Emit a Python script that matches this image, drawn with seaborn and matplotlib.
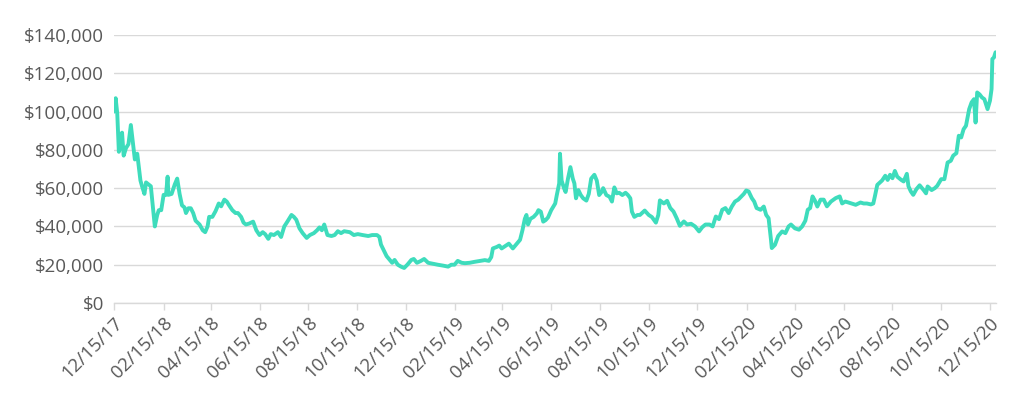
import matplotlib
matplotlib.use("Agg")
import matplotlib.pyplot as plt
import matplotlib.dates as mdates
from matplotlib.ticker import FuncFormatter, MultipleLocator
import seaborn as sns
import pandas as pd
import numpy as np

start_date = "2017-12-15"
# days since start date
days = [0, 2, 4, 6, 8, 10, 12, 15, 18, 21, 24, 26, 29, 31, 33, 35, 38, 40, 43, 46,
        51, 54, 56, 59, 62, 65, 67, 68, 72, 76, 79, 82, 85, 88, 90, 93, 96, 99, 102, 107,
        111, 114, 117, 119, 123, 127, 131, 134, 138, 141, 144, 148, 152, 155, 159, 162, 165, 169, 174, 178,
        182, 186, 189, 193, 196, 200, 205, 209, 213, 217, 222, 225, 228, 232, 236, 241, 245, 250, 254, 257,
        260, 263, 267, 272, 276, 280, 284, 288, 295, 300, 305, 311, 318, 323, 329, 332, 334, 338, 341, 345,
        348, 351, 355, 359, 363, 367, 372, 375, 379, 384, 388, 393, 399, 405, 412, 418, 422, 426, 430, 435,
        439, 445, 451, 458, 464, 469, 472, 474, 479, 482, 485, 489, 494, 499, 504, 508, 511, 514, 516, 518,
        521, 525, 529, 531, 534, 537, 540, 543, 547, 552, 554, 557, 558, 560, 563, 565, 568, 571, 574, 576,
        578, 581, 584, 587, 591, 594, 597, 601, 604, 607, 610, 612, 616, 620, 623, 626, 629, 632, 636, 640,
        643, 646, 648, 651, 655, 658, 664, 669, 673, 678, 681, 683, 688, 692, 696, 700, 704, 708, 713, 717,
        722, 727, 732, 736, 740, 745, 749, 753, 757, 761, 765, 769, 773, 777, 781, 785, 788, 791, 794, 798,
        801, 804, 809, 813, 816, 819, 822, 823, 827, 831, 836, 840, 844, 847, 852, 857, 861, 865, 868, 871,
        874, 877, 880, 884, 888, 892, 897, 903, 908, 911, 915, 919, 924, 928, 934, 938, 942, 947, 950, 952,
        955, 961, 965, 968, 971, 974, 977, 980, 985, 988, 992, 994, 997, 1000, 1004, 1008, 1013, 1016, 1018, 1023,
        1027, 1030, 1035, 1039, 1043, 1047, 1050, 1054, 1057, 1060, 1063, 1066, 1068, 1070, 1073, 1076, 1078, 1080, 1083, 1086,
        1089, 1093, 1096, 1098, 1099, 1101, 1103]
# portfolio value in thousands of dollars
values_k = [100, 107, 99, 79, 82, 89, 77, 81, 83, 93, 82, 75, 78, 71, 64, 61, 57, 63, 62, 61,
            40, 46, 48.5, 48.5, 56.5, 56.5, 66, 56.5, 57, 62, 65, 57, 51, 50, 47, 49.5, 49.5, 47, 43, 41,
            38, 37, 40, 45, 45, 48, 52, 50.5, 54, 53, 51, 48.5, 47, 47, 45, 42, 41, 41.5, 42.5, 38,
            35.5, 37, 36, 33.5, 36, 35.5, 37, 34.5, 40, 42.6, 46, 45, 43.5, 39, 36.5, 34, 35.5, 36.5, 38, 39.5,
            38, 41, 35.5, 35, 35.5, 37.5, 36.5, 37.5, 37, 35.5, 36, 35.5, 35, 35.5, 35.5, 34.5, 30.5, 27, 24.5, 22.5,
            21, 22.5, 20, 19, 18.3, 20, 22.5, 23, 21, 22, 23, 21, 20.5, 20, 19.5, 19, 20, 20, 22, 21,
            20.8, 21, 21.5, 22, 22.4, 22, 24, 28.5, 29.3, 30, 28.5, 29.6, 31, 28.5, 31, 33, 38, 44, 46, 41,
            44, 45, 46.8, 48.5, 47.7, 42.5, 43.3, 44.7, 48.5, 52, 56.4, 62.5, 78, 64, 60, 58, 65, 71, 65, 62.5,
            54.7, 59, 56.4, 54.7, 53.5, 57, 65, 67, 64, 56.4, 58, 60, 56.4, 55.5, 53, 60.4, 57.3, 57.6, 56.4, 57.6,
            56.4, 54.7, 47.7, 45, 46, 46, 48.3, 46, 44.9, 42, 46, 53.6, 52, 53.4, 49.6, 47.8, 44.3, 40.3, 42.6, 41,
            41.4, 40, 37.4, 39.6, 41, 41, 40, 45.2, 43.8, 48.7, 49.6, 47, 50.4, 53, 54, 55.7, 57, 58.8, 58.3, 54.8,
            53, 49.6, 48.7, 50.4, 46, 44.3, 33, 28.7, 30.4, 35, 37.4, 36.5, 40, 41, 39, 38.3, 40, 43, 48.7, 49.6,
            55.7, 53.5, 50.4, 54, 54, 50.5, 53, 54.8, 55.7, 52, 53, 52.5, 51.8, 51.3, 52.5, 52, 52, 51.5, 52, 55.7,
            61.7, 64, 66.5, 64.3, 67, 65.2, 69, 66, 64.3, 63.5, 67.5, 61, 58.3, 56.5, 59.5, 61.5, 59, 57.3, 60.9, 59,
            60, 61.2, 64.7, 64.7, 73.4, 74.3, 77, 78.3, 87.4, 86.5, 90.8, 92.6, 97, 101.3, 104.8, 106.5, 94.3, 110, 109, 107.4,
            106.5, 101.3, 105.7, 111.8, 127.5, 128.3, 131]

y_ticks = [0, 20000, 40000, 60000, 80000, 100000, 120000, 140000]
x_tick_dates = ["2017-12-15", "2018-02-15", "2018-04-15", "2018-06-15", "2018-08-15", "2018-10-15",
                "2018-12-15", "2019-02-15", "2019-04-15", "2019-06-15", "2019-08-15", "2019-10-15",
                "2019-12-15", "2020-02-15", "2020-04-15", "2020-06-15", "2020-08-15", "2020-10-15",
                "2020-12-15"]

df = pd.DataFrame({
    "date": pd.Timestamp(start_date) + pd.to_timedelta(days, unit="D"),
    "value": np.array(values_k) * 1000,
})

sns.set_style("white")
plt.rcParams["font.family"] = ["Open Sans", "DejaVu Sans"]

fig = plt.figure(figsize=(10.24, 3.94), dpi=100)
ax = fig.add_axes([0.111, 0.231, 0.862, 0.680])

sns.lineplot(data=df, x="date", y="value", ax=ax, color="#3edcbc", linewidth=2.8)

ax.set_ylim(0, 140000)
ax.set_yticks(y_ticks)
ax.yaxis.set_major_formatter(FuncFormatter(lambda v, p: f"${v:,.0f}"))
ax.set_xlim(pd.Timestamp(start_date) - pd.Timedelta(days=0.5), pd.Timestamp(start_date) + pd.Timedelta(days=1104))
ax.set_xticks(pd.to_datetime(x_tick_dates))
ax.xaxis.set_major_formatter(mdates.DateFormatter("%m/%d/%y"))

ax.grid(axis="y", color="#d9d9d9", linewidth=1)
ax.grid(axis="x", visible=False)
for s in ["left", "right", "top"]:
    ax.spines[s].set_visible(False)
ax.spines["bottom"].set_color("#d9d9d9")
ax.spines["bottom"].set_linewidth(1)

ax.tick_params(axis="y", length=0, labelsize=13.5, labelcolor="#595959", pad=7)
ax.tick_params(axis="x", direction="out", length=5, width=1, color="#d9d9d9",
               labelsize=13.5, labelcolor="#595959", pad=3, bottom=True)
for lbl in ax.get_xticklabels():
    lbl.set_rotation(45)
    lbl.set_ha("right")
    lbl.set_rotation_mode("anchor")

ax.set_xlabel("")
ax.set_ylabel("")

fig.savefig("out.png", dpi=100)
